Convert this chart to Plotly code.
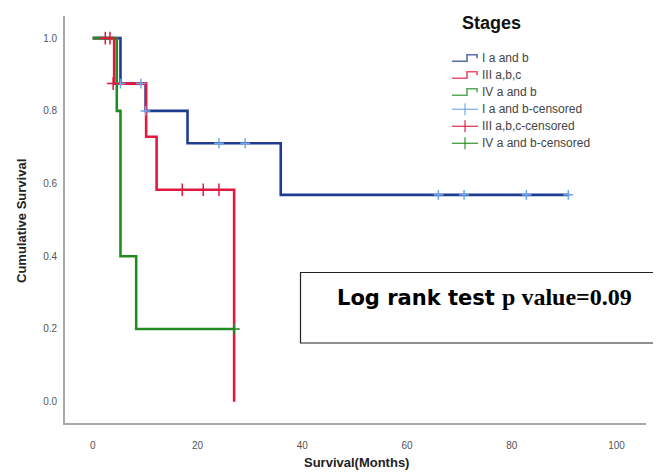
import plotly.graph_objects as go

# ---- data ----
blue_t = [0, 5.3, 10.1, 18.1, 35.9, 91.0]
blue_s = [1.0, 0.875, 0.80, 0.711, 0.569, 0.569]
blue_cens_t = [5.3, 9.2, 10.1, 24.1, 29.1, 66.0, 70.9, 82.8, 90.8]
blue_cens_s = [0.875, 0.875, 0.80, 0.711, 0.711, 0.569, 0.569, 0.569, 0.569]

red_t = [0, 4.1, 10.2, 12.2, 27.0]
red_s = [1.0, 0.875, 0.729, 0.583, 0.0]
red_cens_t = [2.4, 3.3, 3.9, 17.1, 21.1, 24.1]
red_cens_s = [1.0, 1.0, 0.875, 0.583, 0.583, 0.583]

green_t = [0, 4.6, 5.3, 8.3, 27.0]
green_s = [1.0, 0.8, 0.4, 0.2, 0.2]
green_cens_t = [27.0]
green_cens_s = [0.2]

x_ticks = [0, 20, 40, 60, 80, 100]
y_ticks = [0.0, 0.2, 0.4, 0.6, 0.8, 1.0]

legend_names = ["I a and b", "III a,b,c", "IV a and b",
                "I a and b-censored", "III a,b,c-censored", "IV a and b-censored"]

BLUE = "#1f3d8f"
RED = "#e4173f"
GREEN = "#228b22"
BLUE_C = "#6fa6ea"

# the page places the plot 8px in from the window's top-left corner
OFF = 8
W, H = 661 - OFF, 472 - OFF
# plot area in window pixels
LW, RW, TW, BW = 65, 646, 16, 423
L, R, T, B = LW - OFF, RW - OFF, TW - OFF, BW - OFF


def px(p):
    return (p - LW) / (RW - LW)


def py(p):
    return (BW - p) / (BW - TW)


fig = go.Figure()

for t, s, c in [(blue_t, blue_s, BLUE), (red_t, red_s, RED), (green_t, green_s, GREEN)]:
    fig.add_trace(go.Scatter(x=t, y=s, mode="lines", line=dict(color=c, width=2.6, shape="hv"),
                             showlegend=False, hoverinfo="skip"))

for t, s, c, sz in [(blue_cens_t, blue_cens_s, BLUE_C, 7), (red_cens_t, red_cens_s, RED, 9),
                    (green_cens_t, green_cens_s, GREEN, 8)]:
    fig.add_trace(go.Scatter(x=t, y=s, mode="markers",
                             marker=dict(symbol="cross-thin", size=sz, line=dict(color=c, width=1.5)),
                             showlegend=False, hoverinfo="skip"))

shapes = []
annotations = []

# custom legend
annotations.append(dict(x=px(491.5), y=py(23), xref="paper", yref="paper", text="<b>Stages</b>",
                        showarrow=False, xanchor="center", yanchor="middle",
                        font=dict(family="Liberation Sans", size=18, color="#111")))
row_y = [58.3, 75.3, 92.3, 109.3, 126.3, 143.3]
glyph_cols = [BLUE, RED, GREEN, BLUE_C, RED, GREEN]
for i, (name, ry, col) in enumerate(zip(legend_names, row_y, glyph_cols)):
    if i < 3:
        path = (f"M {px(452)},{py(ry+3)} L {px(467)},{py(ry+3)} L {px(467)},{py(ry-3.5)} "
                f"L {px(477)},{py(ry-3.5)} L {px(477)},{py(ry)}")
        shapes.append(dict(type="path", path=path, xref="paper", yref="paper",
                           line=dict(color=col, width=1.6), opacity=0.75))
    else:
        shapes.append(dict(type="line", x0=px(452), x1=px(478), y0=py(ry), y1=py(ry),
                           xref="paper", yref="paper", line=dict(color=col, width=1.4), opacity=0.8))
        shapes.append(dict(type="line", x0=px(465), x1=px(465), y0=py(ry - 6), y1=py(ry + 6),
                           xref="paper", yref="paper", line=dict(color=col, width=1.4), opacity=0.8))
    annotations.append(dict(x=px(480), y=py(ry), xref="paper", yref="paper", text=name,
                            showarrow=False, xanchor="left", yanchor="middle",
                            font=dict(family="Liberation Sans", size=12, color="#444")))

# log-rank box
shapes.append(dict(type="rect", x0=px(300.5), x1=px(657.5), y0=py(272.5), y1=py(343),
                   xref="paper", yref="paper", line=dict(color="#222", width=1.2),
                   fillcolor="rgba(0,0,0,0)"))
annotations.append(dict(
    x=px(484), y=py(297), xref="paper", yref="paper", showarrow=False,
    xanchor="center", yanchor="middle",
    text=("<span style='font-family:DejaVu Sans;font-size:21px'><b>Log rank test </b></span>"
          "<span style='font-family:Liberation Serif'><b>p value=0.09</b></span>"),
    font=dict(family="Liberation Serif", size=24, color="#000")))

# axis titles
annotations.append(dict(x=px(21), y=py(221), xref="paper", yref="paper", showarrow=False,
                        text="<b>Cumulative Survival</b>", textangle=-90,
                        xanchor="center", yanchor="middle",
                        font=dict(family="Liberation Sans", size=13, color="#222")))
annotations.append(dict(x=px(356), y=py(462), xref="paper", yref="paper", showarrow=False,
                        text="<b>Survival(Months)</b>",
                        xanchor="center", yanchor="middle",
                        font=dict(family="Liberation Sans", size=13, color="#222")))

fig.update_layout(
    width=W, height=H,
    margin=dict(l=L, r=W - R, t=T, b=H - B, pad=0),
    paper_bgcolor="white", plot_bgcolor="white",
    shapes=shapes, annotations=annotations,
    showlegend=False,
    xaxis=dict(range=[-5.29, 105.63], tickvals=x_ticks, ticktext=[str(v) for v in x_ticks],
               showgrid=False, zeroline=False, showline=True, linecolor="#a8a8a8", linewidth=1.6,
               ticks="", ticklabelstandoff=12,
               tickfont=dict(family="Liberation Sans", size=10, color="#555")),
    yaxis=dict(range=[-0.0586, 1.061], tickvals=y_ticks, ticktext=[f"{v:.1f}" for v in y_ticks],
               showgrid=False, zeroline=False, showline=True, linecolor="#a8a8a8", linewidth=1.6,
               ticks="", ticklabelstandoff=4,
               tickfont=dict(family="Liberation Sans", size=10, color="#555")),
)

fig.write_html("out.html")
